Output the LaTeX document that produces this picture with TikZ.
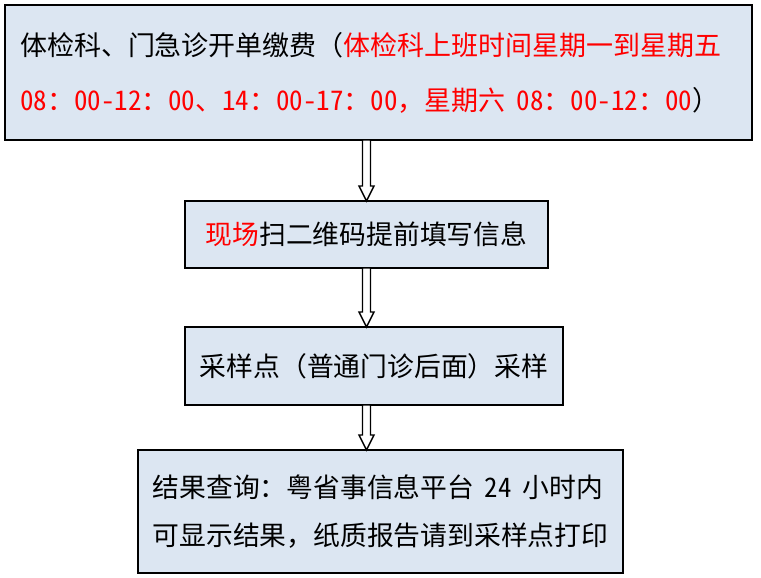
\documentclass[tikz,border=0pt]{standalone}
\usepackage{fontspec}
\setmainfont{Noto Sans CJK SC}
\newfontfamily\hwfont{Noto Sans CJK SC}[RawFeature=+hwid]
\newcommand\hw[1]{{\hwfont #1}}
\usetikzlibrary{calc}
\definecolor{boxfill}{HTML}{DCE6F2}
\definecolor{redtxt}{HTML}{FF0000}
\tikzset{
  box/.style={draw=black, line width=2pt, fill=boxfill, outer sep=0pt, inner sep=0pt, align=left, text=black},
  hollowarrow/.style={draw=black, fill=white, line width=1.4pt, line join=miter,
    to path={let \p1=(\tikztostart), \p2=(\tikztotarget) in
      ({\x2-4pt},\y1) -- ({\x2-4pt},{\y2+15pt}) -- ({\x2-7.5pt},{\y2+15pt}) -- (\x2,\y2)
      -- ({\x2+7.5pt},{\y2+15pt}) -- ({\x2+4pt},{\y2+15pt}) -- ({\x2+4pt},\y1) -- cycle}}
}
\begin{document}
\begin{tikzpicture}[x=1pt,y=1pt]
\useasboundingbox (0,0) rectangle (761,-578);
\node[box, minimum height=135, text width=717, inner xsep=15,
  font={\fontsize{27}{55}\selectfont}] (a) at (378.5,-72.5)
  {体检科、门急诊开单缴费（\textcolor{redtxt}{体检科上班时间星期一到星期五}\\
   \textcolor{redtxt}{\hw{08}：\hw{00-12}：\hw{00}、\hw{14}：\hw{00-17}：\hw{00}，星期六\hspace{0.4em}\hw{08}：\hw{00-12}：\hw{00}}）};
\node[box, minimum width=363, minimum height=67,
  font={\fontsize{26.8}{48}\selectfont}] (b) at (366.5,-234.5)
  {\textcolor{redtxt}{现场}扫二维码提前填写信息};
\node[box, minimum width=378, minimum height=78,
  font={\fontsize{26.8}{48}\selectfont}] (c) at (374,-366)
  {采样点（普通门诊后面）采样};
\node[box, minimum width=485, minimum height=123,
  font={\fontsize{26.8}{48}\selectfont}] (d) at (380.5,-511.5)
  {结果查询：粤省事信息平台\hspace{0.4em}\hw{24}\hspace{0.4em}小时内\\
   可显示结果，纸质报告请到采样点打印};
\draw[hollowarrow] (a.south) to (b.north);
\draw[hollowarrow] (b.south) to (c.north -| b.north);
\draw[hollowarrow] (c.south) to (d.north -| b.north);
\end{tikzpicture}
\end{document}
